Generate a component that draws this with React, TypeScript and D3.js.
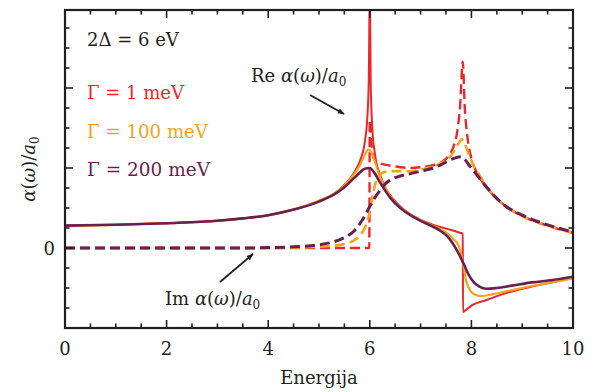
import * as d3 from 'd3'

// energija [eV], vrednost alpha/a0 (odčitano s slike)
const reG1: [number, number][] = [
  [0, 0.28], [1, 0.29], [2, 0.31], [3, 0.34], [3.5, 0.37], [4, 0.41], [4.5, 0.48], [5, 0.59],
  [5.3, 0.68], [5.5, 0.79], [5.7, 0.95], [5.8, 1.08], [5.9, 1.32], [5.95, 1.62], [5.98, 2.1],
  [6.0, 3.3], [6.02, 2.0], [6.05, 1.5], [6.1, 1.18], [6.2, 0.92], [6.3, 0.76], [6.4, 0.66],
  [6.6, 0.52], [6.8, 0.42], [7.0, 0.35], [7.2, 0.3], [7.4, 0.26], [7.6, 0.225], [7.78, 0.19],
  [7.83, 0.18], [7.835, -0.8], [7.9, -0.77], [8.0, -0.72], [8.3, -0.65], [8.6, -0.58],
  [9.0, -0.51], [9.5, -0.44], [10, -0.37],
]
const reG100: [number, number][] = [
  [0, 0.28], [1, 0.29], [2, 0.31], [3, 0.34], [3.5, 0.37], [4, 0.41], [4.5, 0.48], [5, 0.59],
  [5.3, 0.68], [5.5, 0.78], [5.7, 0.93], [5.8, 1.03], [5.9, 1.16], [5.97, 1.23], [6.05, 1.17],
  [6.1, 1.08], [6.2, 0.89], [6.3, 0.76], [6.4, 0.65], [6.6, 0.51], [6.8, 0.42], [7.0, 0.35],
  [7.2, 0.29], [7.4, 0.23], [7.55, 0.17], [7.65, 0.11], [7.75, 0.03], [7.84, -0.2], [7.9, -0.42],
  [8.0, -0.55], [8.1, -0.59], [8.2, -0.6], [8.4, -0.58], [8.7, -0.54], [9.0, -0.5],
  [9.5, -0.44], [10, -0.38],
]
const reG200: [number, number][] = [
  [0, 0.28], [1, 0.29], [2, 0.31], [3, 0.34], [3.5, 0.37], [4, 0.41], [4.5, 0.48], [5, 0.58],
  [5.3, 0.67], [5.5, 0.76], [5.7, 0.88], [5.8, 0.94], [5.9, 0.99], [6.0, 1.0], [6.1, 0.93],
  [6.2, 0.82], [6.3, 0.72], [6.4, 0.63], [6.6, 0.5], [6.8, 0.41], [7.0, 0.34], [7.2, 0.28],
  [7.4, 0.21], [7.55, 0.13], [7.65, 0.04], [7.75, -0.07], [7.85, -0.2], [7.95, -0.34],
  [8.05, -0.43], [8.15, -0.48], [8.3, -0.51], [8.5, -0.5], [8.8, -0.47], [9.2, -0.43],
  [9.6, -0.4], [10, -0.36],
]
const imG1: [number, number][] = [
  [0, 0], [5.99, 0], [6.0, 1.6], [6.05, 1.18], [6.1, 1.1], [6.2, 1.06], [6.4, 1.03], [6.6, 1.01],
  [6.8, 1.0], [7.0, 1.01], [7.2, 1.03], [7.4, 1.07], [7.55, 1.15], [7.65, 1.27], [7.72, 1.45],
  [7.78, 1.8], [7.83, 2.33], [7.87, 1.75], [7.92, 1.4], [8.0, 1.12], [8.1, 0.95], [8.3, 0.76],
  [8.6, 0.56], [9.0, 0.4], [9.5, 0.28], [10, 0.19],
]
const imG100: [number, number][] = [
  [0, 0], [3.5, 0], [4.5, 0.005], [5.0, 0.015], [5.3, 0.03], [5.5, 0.05], [5.7, 0.1], [5.8, 0.15],
  [5.9, 0.25], [5.95, 0.33], [6.0, 0.45], [6.05, 0.63], [6.1, 0.78], [6.15, 0.88], [6.25, 0.94],
  [6.4, 0.96], [6.6, 0.96], [6.8, 0.96], [7.0, 0.98], [7.2, 1.01], [7.4, 1.06], [7.55, 1.12],
  [7.65, 1.2], [7.75, 1.31], [7.81, 1.36], [7.87, 1.3], [7.95, 1.17], [8.05, 1.02], [8.15, 0.92],
  [8.3, 0.77], [8.6, 0.56], [9.0, 0.4], [9.5, 0.28], [10, 0.19],
]
const imG200: [number, number][] = [
  [0, 0], [3.5, 0], [4.0, 0.005], [4.5, 0.015], [5.0, 0.04], [5.3, 0.08], [5.5, 0.13], [5.7, 0.22],
  [5.8, 0.3], [5.9, 0.4], [6.0, 0.52], [6.1, 0.63], [6.2, 0.72], [6.3, 0.8], [6.4, 0.85],
  [6.6, 0.9], [6.8, 0.93], [7.0, 0.96], [7.2, 0.99], [7.4, 1.04], [7.55, 1.09], [7.7, 1.13],
  [7.79, 1.14], [7.88, 1.1], [7.97, 1.02], [8.05, 0.96], [8.15, 0.88], [8.3, 0.76], [8.6, 0.56],
  [9.0, 0.41], [9.5, 0.29], [10, 0.2],
]

const xTickLabels = [0, 2, 4, 6, 8, 10]
const yTickLabels = [0]

const GAMMAS = [
  { label: 'Γ = 1 meV', color: '#e8282b', re: reG1, im: imG1, w: 2, len: 97 },
  { label: 'Γ = 100 meV', color: '#f6a21d', re: reG100, im: imG100, w: 2.2, len: 121 },
  { label: 'Γ = 200 meV', color: '#6a1f4f', re: reG200, im: imG200, w: 2.6, len: 123 },
]

const W = 592
const H = 392
const margin = { top: 10, right: 19, bottom: 64, left: 65 }
const FONT = 'DejaVu Serif'
const INK = '#231f20'
const FS = 18

export default function App() {
  const w = W - margin.left - margin.right
  const h = H - margin.top - margin.bottom

  const x = d3.scaleLinear().domain([0, 10]).range([0, w])
  const y = d3.scaleLinear().domain([-1, 2.975]).range([h, 0])

  const line = d3.line<[number, number]>()
    .x(d => x(d[0]))
    .y(d => y(d[1]))
    .curve(d3.curveMonotoneX)

  const xMinor = d3.range(0, 10.001, 0.5)
  const yMinor = d3.range(-1, 2.9, 0.25)

  const tick = (major: boolean) => (major ? 8 : 4.5)

  return (
    <svg width={W} height={H}
      style={{ position: 'absolute', left: 0, top: 0, background: '#fff', fontFamily: FONT }}>
      <defs>
        <clipPath id="plot">
          <rect x={0} y={0} width={w} height={h} />
        </clipPath>
        <marker id="arr" viewBox="0 0 10 10" refX="9" refY="5" markerWidth="7" markerHeight="7"
          orient="auto" markerUnits="userSpaceOnUse">
          <path d="M0,1 L10,5 L0,9 z" fill={INK} />
        </marker>
      </defs>
      <g transform={`translate(${margin.left},${margin.top})`}>
        <g clipPath="url(#plot)">
          {GAMMAS.map(g => (
            <g key={g.label}>
              <path d={line(g.im) ?? ''} fill="none" stroke={g.color} strokeWidth={g.w + 0.4}
                strokeDasharray="10,5" />
              <path d={line(g.re) ?? ''} fill="none" stroke={g.color} strokeWidth={g.w} />
            </g>
          ))}
        </g>

        {/* okvir in oznake */}
        {xMinor.map(v => {
          const major = Math.abs(v % 2) < 1e-6
          return (
            <g key={'x' + v} stroke={INK} strokeWidth={1.6}>
              <line x1={x(v)} x2={x(v)} y1={h} y2={h - tick(major)} />
              <line x1={x(v)} x2={x(v)} y1={0} y2={tick(major)} />
            </g>
          )
        })}
        {yMinor.map(v => {
          const major = Math.abs(v - Math.round(v)) < 1e-6
          return (
            <g key={'y' + v} stroke={INK} strokeWidth={1.6}>
              <line x1={0} x2={tick(major)} y1={y(v)} y2={y(v)} />
              <line x1={w} x2={w - tick(major)} y1={y(v)} y2={y(v)} />
            </g>
          )
        })}
        <rect x={0} y={0} width={w} height={h} fill="none" stroke={INK} strokeWidth={2.2} />

        {xTickLabels.map(v => (
          <text key={'xl' + v} x={x(v)} y={h + 27} textAnchor="middle" fontSize={FS} fill={INK}>{v}</text>
        ))}
        {yTickLabels.map(v => (
          <text key={'yl' + v} x={-10} y={y(v) + 6.5} textAnchor="end" fontSize={FS} fill={INK}>{v}</text>
        ))}
        <text x={w / 2} y={h + 56} textAnchor="middle" fontSize={FS} fill={INK}>Energija</text>
        <text transform={`translate(-30,${h / 2}) rotate(-90)`} textAnchor="middle" fontSize={FS} fill={INK}>
          <tspan fontStyle="italic">α</tspan>(<tspan fontStyle="italic">ω</tspan>)/<tspan fontStyle="italic">a</tspan>
          <tspan fontSize={12} dy={4}>0</tspan>
        </text>

        {/* legenda */}
        <text x={22} y={36} fontSize={FS} fill={INK}>2Δ = 6 eV</text>
        {GAMMAS.map((g, i) => (
          <text key={'lg' + i} x={22} y={89 + i * 38.5} fontSize={FS} fill={g.color}
            textLength={g.len} lengthAdjust="spacingAndGlyphs">{g.label}</text>
        ))}

        {/* napisi s puščicami */}
        <text x={186} y={72} fontSize={FS} fill={INK}>
          Re <tspan fontStyle="italic">α</tspan>(<tspan fontStyle="italic">ω</tspan>)/<tspan fontStyle="italic">a</tspan>
          <tspan fontSize={12} dy={4}>0</tspan>
        </text>
        <line x1={245} y1={85} x2={279} y2={104} stroke={INK} strokeWidth={1.8} markerEnd="url(#arr)" />
        <text x={100} y={295} fontSize={FS} fill={INK}>
          Im <tspan fontStyle="italic">α</tspan>(<tspan fontStyle="italic">ω</tspan>)/<tspan fontStyle="italic">a</tspan>
          <tspan fontSize={12} dy={4}>0</tspan>
        </text>
        <line x1={155} y1={272} x2={188} y2={244} stroke={INK} strokeWidth={1.8} markerEnd="url(#arr)" />
      </g>
    </svg>
  )
}
